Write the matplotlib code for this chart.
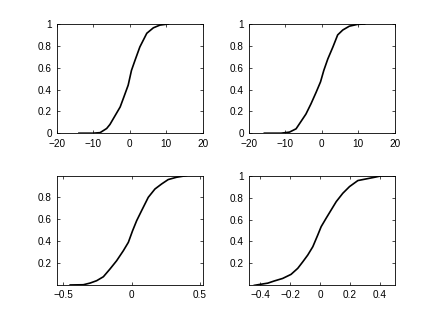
import matplotlib
matplotlib.use("Agg")
import matplotlib.pyplot as plt

x_tl = [-13.9, -10.0, -8.1, -6.3, -5.4, -4.0, -2.6, -1.6, -0.4, 0.5, 1.5, 2.8, 4.7, 6.5, 8.3, 10.6]
f_tl = [0.0, 0.0, 0.005, 0.043, 0.08, 0.16, 0.24, 0.33, 0.44, 0.575, 0.67, 0.79, 0.915, 0.965, 0.99, 1.0]

x_tr = [-15.7, -11.1, -8.8, -7.0, -5.6, -4.3, -2.9, -1.5, -0.3, 0.6, 1.7, 3.1, 4.4, 5.8, 7.6, 9.9, 11.8]
f_tr = [0.0, 0.0, 0.01, 0.04, 0.11, 0.175, 0.27, 0.375, 0.47, 0.575, 0.68, 0.79, 0.9, 0.945, 0.98, 0.997, 1.0]

x_bl = [-0.45, -0.354, -0.305, -0.256, -0.207, -0.159, -0.11, -0.061, -0.024, 0.007, 0.037,
        0.073, 0.122, 0.171, 0.22, 0.268, 0.329, 0.402]
f_bl = [0.0, 0.002, 0.017, 0.039, 0.075, 0.145, 0.221, 0.312, 0.389, 0.495, 0.587,
        0.678, 0.8, 0.876, 0.922, 0.962, 0.983, 0.998]

x_br = [-0.44, -0.396, -0.35, -0.306, -0.25, -0.194, -0.149, -0.115, -0.082, -0.048, -0.015,
        0.008, 0.041, 0.075, 0.109, 0.153, 0.198, 0.254, 0.31, 0.366, 0.411, 0.5]
f_br = [0.0, 0.01, 0.02, 0.04, 0.063, 0.1, 0.155, 0.215, 0.276, 0.352, 0.458,
        0.535, 0.611, 0.687, 0.763, 0.839, 0.9, 0.955, 0.97, 0.985, 0.998, 1.0]

xt_top = [-20, -10, 0, 10, 20]
xt_bl = [-0.5, 0, 0.5]
xt_br = [-0.4, -0.2, 0, 0.2, 0.4]
yt_full = [0, 0.2, 0.4, 0.6, 0.8, 1]
yt_bl = [0.2, 0.4, 0.6, 0.8]
yt_br = [0.2, 0.4, 0.6, 0.8, 1]


def fmt(v):
    s = f"{v:g}"
    return s.replace("-", "\u2212")


plt.rcParams.update({"font.family": ["Liberation Sans", "DejaVu Sans"], "font.size": 7.2})

fig = plt.figure(figsize=(4.36, 3.2), dpi=100)

panels = [
    ([0.13, 0.5838, 0.3347, 0.3412], x_tl, f_tl, (-20, 20), (0, 1), xt_top, yt_full),
    ([0.5703, 0.5838, 0.3347, 0.3412], x_tr, f_tr, (-20, 20), (0, 1), xt_top, yt_full),
    ([0.13, 0.11, 0.3347, 0.3412], x_bl, f_bl, (-0.549, 0.52), (0.0015, 0.998), xt_bl, yt_bl),
    ([0.5703, 0.11, 0.3347, 0.3412], x_br, f_br, (-0.478, 0.5), (0.005, 1), xt_br, yt_br),
]

for pos, xs, fs, xl, yl, xt, yt in panels:
    ax = fig.add_axes(pos)
    ax.plot(xs, fs, color="black", linewidth=1.2)
    ax.set_xlim(*xl)
    ax.set_ylim(*yl)
    ax.set_xticks(xt)
    ax.set_xticklabels([fmt(v) for v in xt])
    ax.set_yticks(yt)
    ax.set_yticklabels([fmt(v) for v in yt])
    ax.tick_params(direction="in", length=2.5, width=0.5, top=True, right=True,
                   labelsize=7.2)
    ax.tick_params(axis="x", pad=4)
    ax.tick_params(axis="y", pad=3.5)
    for sp in ax.spines.values():
        sp.set_linewidth(0.6)
        sp.set_edgecolor("black")

fig.savefig("out.png", dpi=100, facecolor="white")
